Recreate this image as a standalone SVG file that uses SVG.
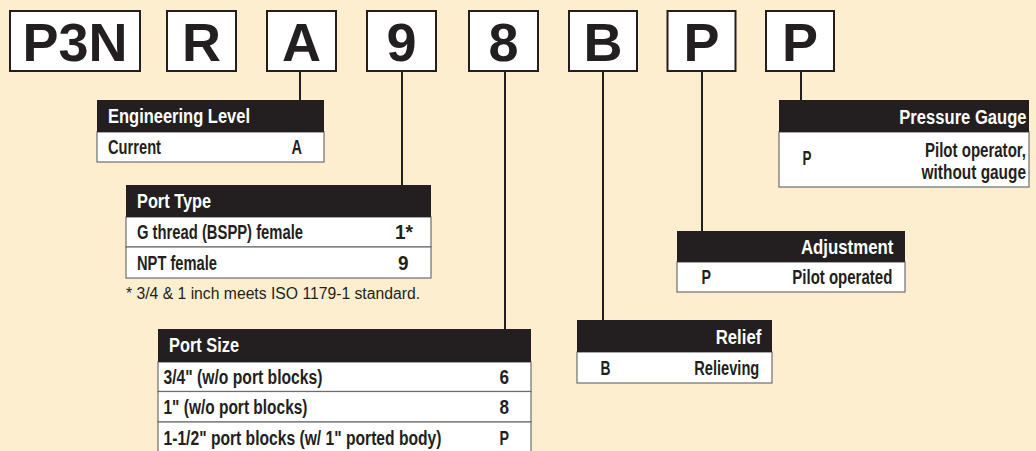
<svg xmlns="http://www.w3.org/2000/svg" width="1036" height="451" viewBox="0 0 1036 451">
<style>
.bg{fill:#fdeecf}
.code rect{fill:#fff;stroke:#231f20;stroke-width:2}
.code text{font-family:"Liberation Sans",Arial,sans-serif;font-weight:bold;font-size:54px;fill:#231f20;text-anchor:middle}
.conn line{stroke:#231f20;stroke-width:2}
.hd{fill:#231f20}
.row{fill:#fff;stroke:#6d6e70;stroke-width:1.2}
.t{font-family:"Liberation Sans Narrow","Liberation Sans",Arial,sans-serif;font-weight:bold;font-size:19.5px;fill:#231f20}
.r{text-anchor:end}
.w{fill:#fff}
.note{font-family:"Liberation Sans Narrow","Liberation Sans",Arial,sans-serif;font-size:16px;fill:#231f20}
</style>
<rect class="bg" x="0" y="0" width="1036" height="451"/>

<g id="codes" class="code">
<g id="code-p3n"><rect x="10" y="11" width="130" height="60"/><text x="75" y="61">P3N</text></g>
<g id="code-r"><rect x="167" y="11" width="69" height="60"/><text x="201.5" y="61">R</text></g>
<g id="code-a"><rect x="267" y="11" width="69" height="60"/><text x="301.5" y="61">A</text></g>
<g id="code-9"><rect x="367" y="11" width="69" height="60"/><text x="401.5" y="61">9</text></g>
<g id="code-8"><rect x="469" y="11" width="69" height="60"/><text x="503.5" y="61">8</text></g>
<g id="code-b"><rect x="569" y="11" width="68" height="60"/><text x="603" y="61">B</text></g>
<g id="code-p1"><rect x="667.5" y="11" width="68" height="60"/><text x="701.5" y="61">P</text></g>
<g id="code-p2"><rect x="766" y="11" width="68" height="60"/><text x="800" y="61">P</text></g>
</g>

<g id="connectors" class="conn">
<line x1="300" y1="71" x2="300" y2="101"/>
<line x1="402" y1="71" x2="402" y2="186"/>
<line x1="505" y1="71" x2="505" y2="330"/>
<line x1="603" y1="71" x2="603" y2="321"/>
<line x1="702" y1="71" x2="702" y2="232"/>
<line x1="801" y1="71" x2="801" y2="101"/>
</g>

<g id="engineering-level">
<rect class="row" x="97" y="132" width="227" height="30"/>
<rect class="hd" x="97" y="100" width="227" height="32"/>
<text class="t w" x="108" y="123" textLength="142" lengthAdjust="spacingAndGlyphs">Engineering Level</text>
<text class="t" x="108" y="154" textLength="53" lengthAdjust="spacingAndGlyphs">Current</text>
<text class="t" x="291.5" y="154" textLength="10.5" lengthAdjust="spacingAndGlyphs">A</text>
</g>

<g id="port-type">
<rect class="row" x="126" y="217" width="305" height="30"/>
<rect class="row" x="126" y="247" width="305" height="31"/>
<rect class="hd" x="126" y="185" width="305" height="32"/>
<text class="t w" x="137" y="208" textLength="74" lengthAdjust="spacingAndGlyphs">Port Type</text>
<text class="t" x="137" y="238.5" textLength="166" lengthAdjust="spacingAndGlyphs">G thread (BSPP) female</text>
<text class="t" x="395" y="238.5" textLength="18" lengthAdjust="spacingAndGlyphs">1*</text>
<text class="t" x="137" y="270" textLength="80" lengthAdjust="spacingAndGlyphs">NPT female</text>
<text class="t" x="398" y="270" textLength="10.5" lengthAdjust="spacingAndGlyphs">9</text>
<text class="note" x="126" y="299" textLength="294" lengthAdjust="spacingAndGlyphs">* 3/4 &amp; 1 inch meets ISO 1179-1 standard.</text>
</g>

<g id="port-size">
<rect class="row" x="158" y="362" width="373" height="29.5"/>
<rect class="row" x="158" y="391.5" width="373" height="30.5"/>
<rect class="row" x="158" y="422" width="373" height="34"/>
<rect class="hd" x="158" y="329" width="373" height="33"/>
<text class="t w" x="169" y="352" textLength="70" lengthAdjust="spacingAndGlyphs">Port Size</text>
<text class="t" x="163.5" y="383.5" textLength="159" lengthAdjust="spacingAndGlyphs">3/4" (w/o port blocks)</text>
<text class="t" x="499.5" y="383.5" textLength="9.5" lengthAdjust="spacingAndGlyphs">6</text>
<text class="t" x="163.5" y="414" textLength="144" lengthAdjust="spacingAndGlyphs">1" (w/o port blocks)</text>
<text class="t" x="499.5" y="414" textLength="9.5" lengthAdjust="spacingAndGlyphs">8</text>
<text class="t" x="163.5" y="445" textLength="278" lengthAdjust="spacingAndGlyphs">1-1/2" port blocks (w/ 1" ported body)</text>
<text class="t" x="499.5" y="445" textLength="9.5" lengthAdjust="spacingAndGlyphs">P</text>
</g>

<g id="relief">
<rect class="row" x="577" y="352" width="195" height="31"/>
<rect class="hd" x="577" y="320" width="195" height="32"/>
<text class="t w r" x="761.3" y="343.5" textLength="45.6" lengthAdjust="spacingAndGlyphs">Relief</text>
<text class="t" x="600.5" y="375" textLength="10" lengthAdjust="spacingAndGlyphs">B</text>
<text class="t r" x="759.3" y="375" textLength="65" lengthAdjust="spacingAndGlyphs">Relieving</text>
</g>

<g id="adjustment">
<rect class="row" x="677" y="262" width="228" height="30"/>
<rect class="hd" x="677" y="231" width="228" height="31"/>
<text class="t w r" x="893.3" y="253.5" textLength="92.3" lengthAdjust="spacingAndGlyphs">Adjustment</text>
<text class="t" x="701.5" y="284" textLength="9.5" lengthAdjust="spacingAndGlyphs">P</text>
<text class="t r" x="892.3" y="284" textLength="100" lengthAdjust="spacingAndGlyphs">Pilot operated</text>
</g>

<g id="pressure-gauge">
<rect class="row" x="779" y="132" width="250" height="55"/>
<rect class="hd" x="779" y="100" width="250" height="32"/>
<text class="t w r" x="1026.6" y="123.5" textLength="127.3" lengthAdjust="spacingAndGlyphs">Pressure Gauge</text>
<text class="t" x="802.5" y="165" textLength="9" lengthAdjust="spacingAndGlyphs">P</text>
<text class="t r" x="1026" y="157" textLength="101" lengthAdjust="spacingAndGlyphs">Pilot operator,</text>
<text class="t r" x="1026" y="178.5" textLength="104.4" lengthAdjust="spacingAndGlyphs">without gauge</text>
</g>
</svg>
